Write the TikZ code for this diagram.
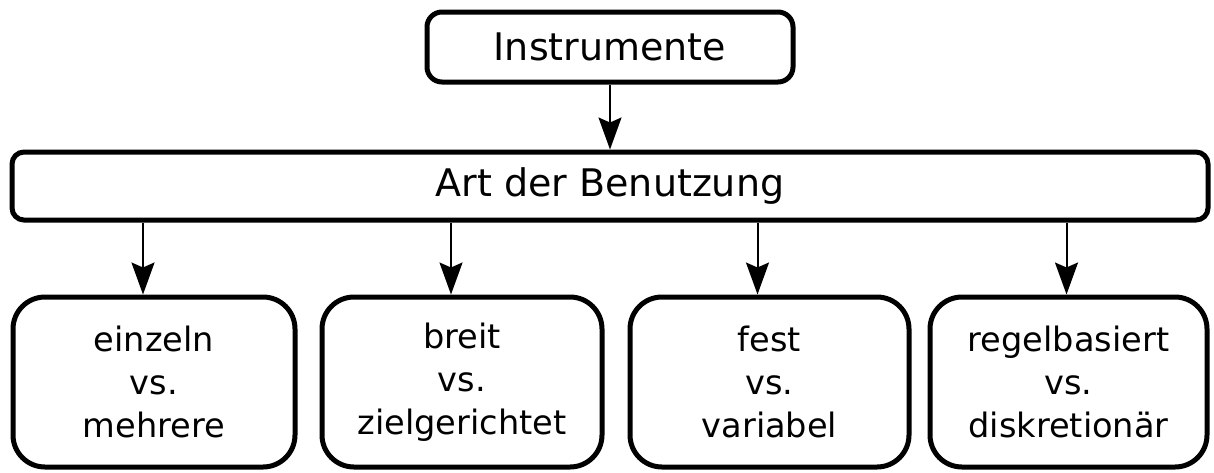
\documentclass[tikz,border=0pt]{standalone}
\usepackage{fontspec}
\setmainfont{DejaVu Sans}
\usepackage{tikz}
\usetikzlibrary{arrows.meta,positioning}

\begin{document}
\begin{tikzpicture}[->,>={Stealth[length=16pt,width=11.5pt,inset=2.5pt]},x=0.5pt,y=-0.5pt,line width=1pt]
\tikzstyle{box}=[draw=black,text=black,line width=2.5pt,align=center,font=\fontsize{19}{22}\selectfont]
\tikzstyle{head}=[box,rounded corners=7.5pt,minimum width=183pt,minimum height=35pt]
\tikzstyle{kind}=[box,rounded corners=16pt,minimum height=85pt,font=\fontsize{16.8}{21.5}\selectfont]
\useasboundingbox (0,0) rectangle (1214,472);
\node[head] (instr) at (610,47) {Instrumente};
\node[head, rounded corners=6pt, minimum width=598pt, minimum height=34pt][below=32.5pt of instr] (art) {Art der Benutzung};
\node[kind, minimum width=141pt][below right=36pt and 0.5pt of art.south west] (einzeln) {einzeln\\vs.\\mehrere};
\node[kind, minimum width=140pt][right=11pt of einzeln] (breit) {breit\\vs.\\zielgerichtet};
\node[kind, minimum width=139.5pt][right=11.5pt of breit] (fest) {fest\\vs.\\variabel};
\node[kind, minimum width=138.5pt][right=8pt of fest] (regel) {regelbasiert\\vs.\\diskretionär};
\path (instr) edge (art);
\foreach \b/\dx in {einzeln/-5.5,breit/-5.5,fest/-6,regel/-1}
  \draw ([xshift=\dx pt]\b.north |- art.south) -- ([xshift=\dx pt]\b.north);
\end{tikzpicture}
\end{document}
